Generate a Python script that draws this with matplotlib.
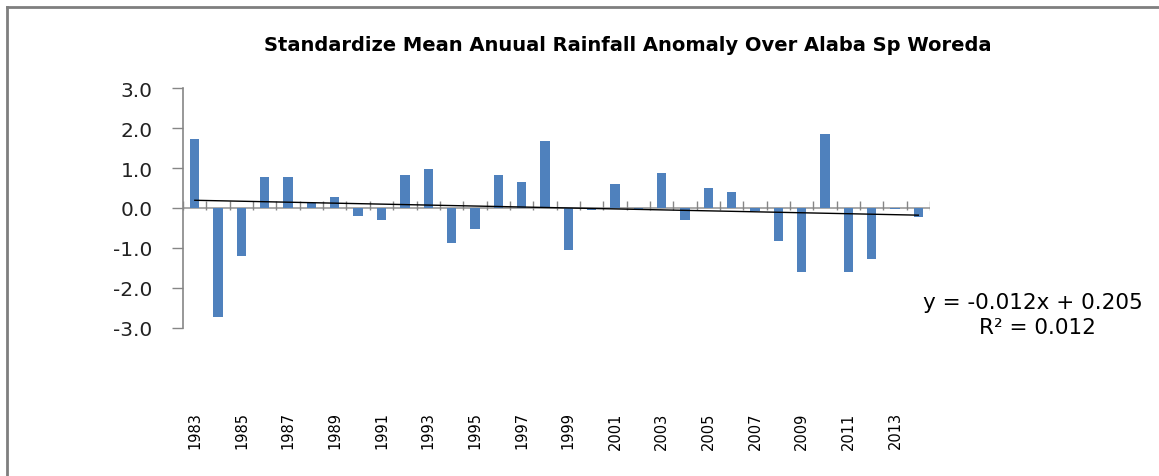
import matplotlib.pyplot as plt
from matplotlib.lines import Line2D
import numpy as np

years = list(range(1983, 2015))
anomaly = [1.72, -2.73, -1.21, 0.78, 0.78, 0.12, 0.28, -0.20, -0.30, 0.83,
           0.97, -0.88, -0.52, 0.83, 0.64, 1.67, -1.04, -0.05, 0.59, -0.04,
           0.88, -0.30, 0.51, 0.40, -0.07, -0.83, -1.59, 1.86, -1.59, -1.28,
           -0.03, -0.22]
slope = -0.012
intercept = 0.205
r2 = 0.012

title = "Standardize Mean Anuual Rainfall Anomaly Over Alaba Sp Woreda"

fig = plt.figure(figsize=(11.59, 4.77), dpi=100)
ax = fig.add_axes([0.158, 0.3103, 0.6444, 0.5031])

x = np.arange(1, len(years) + 1)
ax.bar(x, anomaly, width=0.4, color="#4F81BD", zorder=2)

# linear trend line (Excel style, x = 1..n)
ax.plot(x, slope * x + intercept, color="black", lw=1.0, zorder=3)

ax.set_xlim(0.5, len(years) + 0.5)
ax.set_ylim(-3, 3)

# y axis
ax.set_yticks(np.arange(-3, 3.1, 1))
ax.set_yticklabels([f"{v:.1f}" for v in np.arange(-3, 3.1, 1)])
ax.tick_params(axis="y", direction="out", length=8, width=1, color="#868686",
               labelsize=14.5, pad=14, labelcolor="#222222")
for s in ["top", "right", "bottom"]:
    ax.spines[s].set_visible(False)
ax.spines["left"].set_color("#868686")
ax.spines["left"].set_linewidth(1.2)

# x axis line at zero with category boundary ticks
ax.axhline(0, color="#9a9a9a", lw=1.2, zorder=1)
bounds = np.arange(0.5, len(years) + 1, 1)
ax.vlines(bounds, -0.04, 0.17, color="#868686", lw=1.0, zorder=1)

# x labels at the bottom of the plot area
ax.set_xticks(x[::2])
ax.set_xticklabels([str(y) for y in years[::2]], rotation=90)
ax.tick_params(axis="x", length=0, pad=60, labelsize=10.5)

fig.text(0.542, 0.905, title, fontsize=14, fontweight="bold",
         ha="center", va="center")

fig.text(0.891, 0.365, f"y = {slope:.3f}x + {intercept:.3f}", fontsize=15.5,
         ha="center", va="center")
fig.text(0.895, 0.312, f"R² = {r2:.3f}", fontsize=15.5, ha="center", va="center")

# chart frame
fig.add_artist(Line2D([0.006, 0.006], [0, 0.984], color="#7f7f7f", lw=2,
                      transform=fig.transFigure))
fig.add_artist(Line2D([0.006, 1], [0.984, 0.984], color="#7f7f7f", lw=2,
                      transform=fig.transFigure))

fig.savefig("out.png", dpi=100, facecolor="white")
